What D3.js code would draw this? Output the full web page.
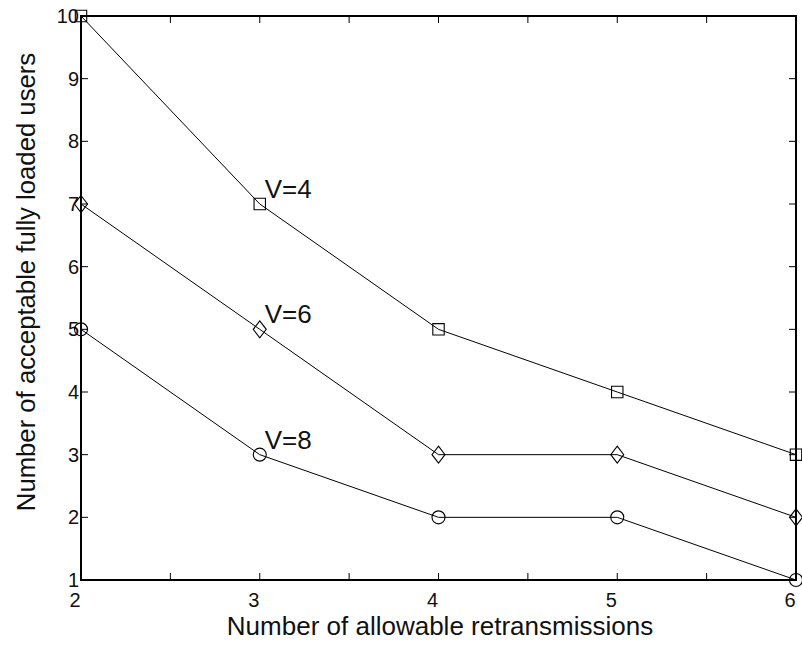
<!DOCTYPE html>
<html>
<head>
<meta charset="utf-8">
<script src="https://cdn.jsdelivr.net/npm/d3@7"></script>
<style>
  html, body { margin: 0; padding: 0; background: #fff; }
  svg { display: block; font-family: "Liberation Sans", Arial, Helvetica, sans-serif; }
</style>
</head>
<body>
<svg id="chart" width="802" height="645"></svg>
<script>
// Retransmissions allowed (x axis)
const retransmissions = [2, 3, 4, 5, 6];
// Acceptable fully loaded users for each V
const usersV4 = [10, 7, 5, 4, 3];
const usersV6 = [7, 5, 3, 3, 2];
const usersV8 = [5, 3, 2, 2, 1];
const seriesNames = ["V=4", "V=6", "V=8"];
const markerShapes = ["square", "diamond", "circle"];
const xTicks = [2, 2.5, 3, 3.5, 4, 4.5, 5, 5.5, 6];
const yTicks = [1, 2, 3, 4, 5, 6, 7, 8, 9, 10];
const xTitle = "Number of allowable retransmissions";
const yTitle = "Number of acceptable fully loaded users";

const series = [usersV4, usersV6, usersV8].map((vals, i) => ({
  name: seriesNames[i],
  shape: markerShapes[i],
  points: retransmissions.map((x, j) => ({ x, y: vals[j] }))
}));

const plotLeft = 81, plotRight = 796, plotTop = 16, plotBottom = 580;
const svg = d3.select("#chart");
const ink = "#111";

const x = d3.scaleLinear().domain([2, 6]).range([plotLeft, plotRight]);
const y = d3.scaleLinear().domain([1, 10]).range([plotBottom, plotTop]);

const tickLen = 7;
const axisG = svg.append("g");

// Inward ticks on all four sides
axisG.selectAll("line.xb").data(xTicks).join("line")
  .attr("x1", d => x(d)).attr("x2", d => x(d))
  .attr("y1", plotBottom).attr("y2", plotBottom - tickLen)
  .attr("stroke", "#000").attr("stroke-width", 1);
axisG.selectAll("line.xt").data(xTicks).join("line")
  .attr("x1", d => x(d)).attr("x2", d => x(d))
  .attr("y1", plotTop).attr("y2", plotTop + tickLen)
  .attr("stroke", "#000").attr("stroke-width", 1);
axisG.selectAll("line.yl").data(yTicks).join("line")
  .attr("x1", plotLeft).attr("x2", plotLeft + tickLen)
  .attr("y1", d => y(d)).attr("y2", d => y(d))
  .attr("stroke", "#000").attr("stroke-width", 1);
axisG.selectAll("line.yr").data(yTicks).join("line")
  .attr("x1", plotRight).attr("x2", plotRight - tickLen)
  .attr("y1", d => y(d)).attr("y2", d => y(d))
  .attr("stroke", "#000").attr("stroke-width", 1);

// Axes box
axisG.append("rect")
  .attr("x", plotLeft).attr("y", plotTop)
  .attr("width", plotRight - plotLeft).attr("height", plotBottom - plotTop)
  .attr("fill", "none").attr("stroke", "#000").attr("stroke-width", 2);

// Tick labels (integers only on x)
axisG.selectAll("text.xl").data(xTicks.filter(d => Number.isInteger(d))).join("text")
  .attr("x", d => x(d) - 6).attr("y", 607)
  .attr("text-anchor", "middle")
  .attr("font-size", 20).attr("fill", ink)
  .text(d => d);
axisG.selectAll("text.yl").data(yTicks).join("text")
  .attr("x", plotLeft - 2).attr("y", d => y(d) + 7)
  .attr("text-anchor", "end")
  .attr("font-size", 20).attr("fill", ink)
  .text(d => d);

// Axis titles
svg.append("text")
  .attr("x", 440).attr("y", 635)
  .attr("text-anchor", "middle").attr("font-size", 26).attr("fill", ink)
  .text(xTitle);
svg.append("text")
  .attr("transform", "translate(35,282) rotate(-90)")
  .attr("text-anchor", "middle").attr("font-size", 25.7).attr("fill", ink)
  .text(yTitle);

// Lines
const line = d3.line().x(d => x(d.x)).y(d => y(d.y));
const plotG = svg.append("g");
plotG.selectAll("path.series").data(series).join("path")
  .attr("d", d => line(d.points))
  .attr("fill", "none").attr("stroke", "#000").attr("stroke-width", 1);

// Markers
const symbolPath = {
  square: "M-5.7,-5.7H5.7V5.7H-5.7Z",
  diamond: "M0,-8.5L6.5,0L0,8.5L-6.5,0Z",
  circle: d3.arc()({ innerRadius: 0, outerRadius: 6.5, startAngle: 0, endAngle: 2 * Math.PI })
};
series.forEach(s => {
  plotG.selectAll(null).data(s.points).join("path")
    .attr("transform", d => `translate(${x(d.x)},${y(d.y)})`)
    .attr("d", symbolPath[s.shape])
    .attr("fill", "none").attr("stroke", "#000").attr("stroke-width", 1.1);
});

// Series annotations near x = 3
series.forEach(s => {
  const p = s.points[1];
  plotG.append("text")
    .attr("x", x(p.x) + 5).attr("y", y(p.y) - 6)
    .attr("font-size", 26).attr("fill", ink)
    .text(s.name);
});
</script>
</body>
</html>
